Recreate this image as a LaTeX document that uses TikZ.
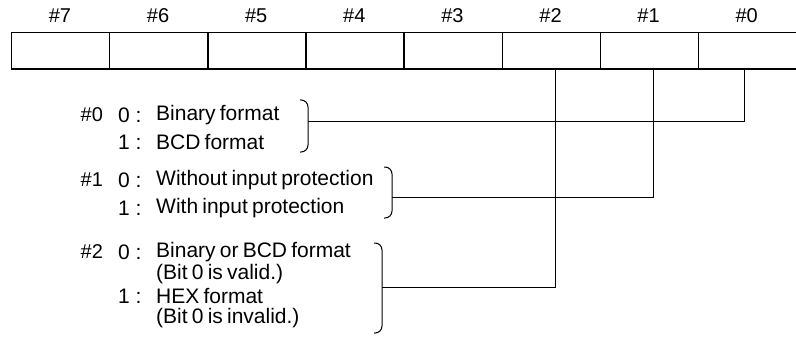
\documentclass[tikz,border=0pt]{standalone}
\usepackage{fontspec}
\setmainfont{Liberation Sans}
\newcommand\mytxtfont{\fontsize{21}{25}\selectfont\spaceskip 0.2em plus 0.05em\relax}
\begin{document}
\begin{tikzpicture}[x=1pt,y=-1pt,
  cell/.style={draw,line width=1.3pt,minimum width=98.1pt,minimum height=36.6pt,inner sep=0pt,anchor=north west},
  hdr/.style={font={\fontsize{20}{23}\selectfont},inner sep=0pt},
  txt/.style={font={\mytxtfont},inner sep=0pt,anchor=west},
  num/.style={font={\fontsize{20}{23}\selectfont},inner sep=0pt,anchor=west},
  val/.style={font={\mytxtfont},inner sep=0pt,anchor=west},
  conn/.style={line width=1pt},
  bracket/.style={line width=1pt,rounded corners=7pt}]
\useasboundingbox (0,0) rectangle (796,345);
% register cells and headers
\foreach \i in {0,...,7}{
  \node[cell] (c\i) at ({11+(7-\i)*98.1},31.7) {};
  \node[hdr] (h\i) at ({11+(7-\i)*98.1+49},16) {\#\i};
}
% bit 0 description
\node[num] (b0n) at (80.5,115) {\#0};
\node[val] (b0a) at (118,115) {0\hspace{5.8pt}:};
\node[val] (b0b) at (118,142) {1\hspace{5.8pt}:};
\node[txt] (b0x) at (156,115) {Binary format};
\node[txt] (b0y) at (156,142) {BCD format};
% bit 1 description
\node[num] (b1n) at (80.5,180) {\#1};
\node[val] (b1a) at (118,180) {0\hspace{5.8pt}:};
\node[val] (b1b) at (118,208) {1\hspace{5.8pt}:};
\node[txt] (b1x) at (156,180) {Without input protection};
\node[txt] (b1y) at (156,208) {With input protection};
% bit 2 description
\node[num] (b2n) at (80.5,252) {\#2};
\node[val] (b2a) at (118,252) {0\hspace{5.8pt}:};
\node[val] (b2b) at (118,296) {1\hspace{5.8pt}:};
\node[txt] (b2x) at (156,252) {Binary or BCD format};
\node[txt] (b2y) at (156,274) {(Bit 0 is valid.)};
\node[txt] (b2z) at (156,296) {HEX format};
\node[txt] (b2w) at (156,318) {(Bit 0 is invalid.)};
% brackets
\draw[bracket] (300,100) -- (308,100) -- (308,152) -- (300,152);
\draw[bracket] (384,167) -- (392,167) -- (392,218) -- (384,218);
\draw[bracket] (374,243) -- (382,243) -- (382,333) -- (374,333);
% connector points
\coordinate (m0) at (308,122);
\coordinate (m1) at (392,197);
\coordinate (m2) at (382,287);
\coordinate (p0) at (744,68.3);
\coordinate (p1) at (653,68.3);
\coordinate (p2) at (555,68.3);
\draw[conn] (m0) -| (p0);
\draw[conn] (m1) -| (p1);
\draw[conn] (m2) -| (p2);
\end{tikzpicture}
\end{document}
